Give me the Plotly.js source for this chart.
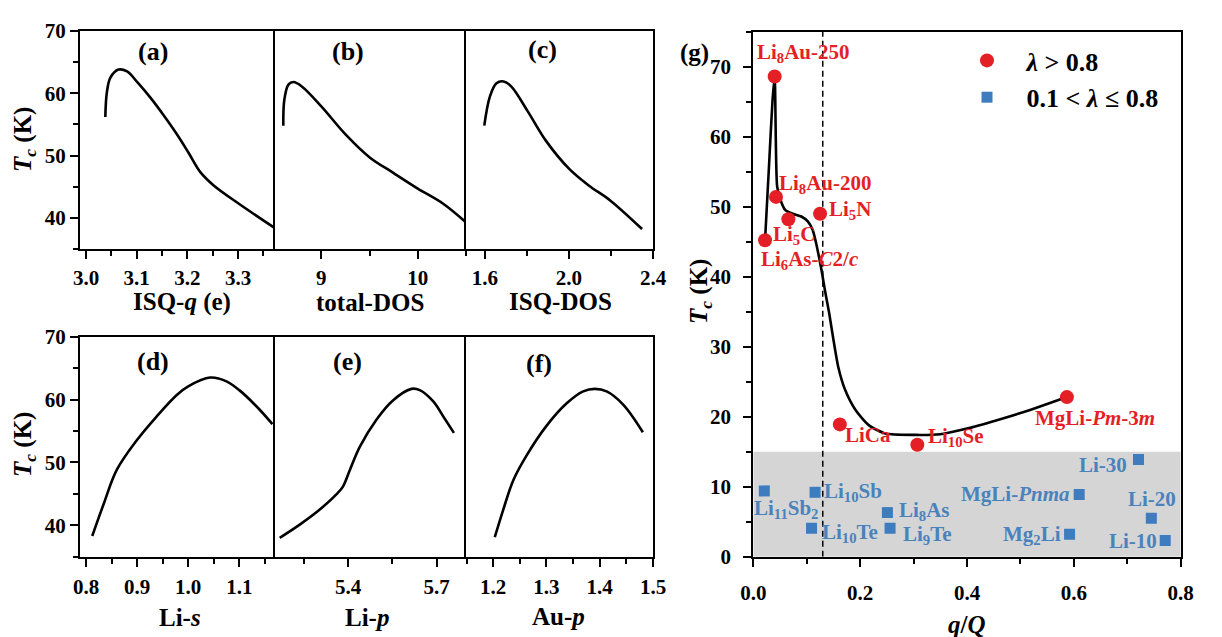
<!DOCTYPE html>
<html>
<head>
<meta charset="utf-8">
<script src="https://cdn.plot.ly/plotly-3.0.1.min.js"></script>
<style>html,body{margin:0;padding:0;background:#fff;}#chart{width:1222px;height:637px;}</style>
</head>
<body>
<div id="chart"></div>
<script>
// ---------- data ----------
// (a) Tc vs ISQ-q
const isqQ = [3.038, 3.041, 3.048, 3.064, 3.081, 3.102, 3.127, 3.152, 3.177, 3.202, 3.226, 3.252, 3.301, 3.372];
const tcA  = [56.2, 60.1, 62.5, 63.8, 63.5, 61.7, 59.3, 56.6, 53.7, 50.5, 47.3, 45.2, 42.3, 38.4];
// (b) Tc vs total-DOS
const totalDOS = [8.606, 8.617, 8.659, 8.711, 8.798, 9.0, 9.251, 9.502, 9.739, 10.0, 10.26, 10.49];
const tcB      = [54.8, 59.0, 61.4, 61.8, 61.1, 57.9, 53.4, 49.7, 47.3, 44.7, 42.3, 39.4];
// (c) Tc vs ISQ-DOS
const isqDOS = [1.597, 1.624, 1.655, 1.689, 1.725, 1.804, 1.890, 2.0, 2.094, 2.196, 2.348];
const tcC    = [54.8, 59.5, 61.6, 61.9, 61.1, 57.1, 52.4, 47.9, 45.2, 42.8, 38.2];
// (d) Tc vs Li-s
const liS = [0.812, 0.834, 0.860, 0.900, 0.938, 0.977, 1.0, 1.043, 1.075, 1.100, 1.134, 1.165];
const tcD = [38.3, 43.3, 48.8, 53.6, 57.3, 60.7, 62.1, 63.5, 62.9, 61.5, 58.9, 56.1];
// (e) Tc vs Li-p
const liP = [5.168, 5.236, 5.304, 5.360, 5.383, 5.406, 5.440, 5.496, 5.553, 5.615, 5.643, 5.689, 5.723, 5.759];
const tcE = [38.0, 40.1, 42.5, 44.9, 46.2, 48.8, 52.5, 56.8, 59.9, 61.7, 61.5, 59.7, 57.3, 54.7];
// (f) Tc vs Au-p
const auP = [1.203, 1.219, 1.238, 1.262, 1.299, 1.338, 1.369, 1.391, 1.413, 1.444, 1.481];
const tcF = [38.1, 42.5, 47.2, 51.0, 55.7, 59.4, 61.3, 61.7, 61.3, 59.2, 54.8];
// (g) trend curve Tc vs q/Q
const curveQ  = [0.022, 0.030, 0.036, 0.040, 0.0446, 0.0509, 0.060, 0.0749, 0.0899, 0.102, 0.111, 0.117, 0.123, 0.128, 0.134, 0.142, 0.150, 0.159, 0.172, 0.191, 0.216, 0.247, 0.303, 0.350, 0.400, 0.456, 0.518, 0.587];
const curveTc = [45.2, 56.7, 65.2, 68.6, 52.9, 50.96, 49.5, 48.96, 48.6, 47.9, 46.7, 45.0, 42.8, 40.8, 38.1, 34.8, 31.0, 27.1, 23.8, 21.0, 18.8, 17.6, 17.4, 17.5, 18.3, 19.5, 20.96, 22.8];
// (g) lambda > 0.8 compounds
const strongNames = ["Li<sub>8</sub>Au-250", "Li<sub>8</sub>Au-200", "Li<sub>5</sub>N", "Li<sub>5</sub>C", "Li<sub>6</sub>As-<i>C</i>2/<i>c</i>", "LiCa", "Li<sub>10</sub>Se", "MgLi-<i>Pm</i>-3<i>m</i>"];
const strongQ  = [0.040, 0.0425, 0.125, 0.0656, 0.022, 0.162, 0.307, 0.587];
const strongTc = [68.6, 51.4, 49.0, 48.2, 45.2, 18.9, 16.0, 22.8];
// (g) 0.1 < lambda <= 0.8 compounds
const weakNames = ["Li<sub>11</sub>Sb<sub>2</sub>", "Li<sub>10</sub>Sb", "Li<sub>10</sub>Te", "Li<sub>8</sub>As", "Li<sub>9</sub>Te", "MgLi-<i>Pnma</i>", "Mg<sub>2</sub>Li", "Li-30", "Li-20", "Li-10"];
const weakQ  = [0.0206, 0.1156, 0.109, 0.251, 0.256, 0.610, 0.592, 0.721, 0.745, 0.771];
const weakTc = [9.4, 9.2, 4.05, 6.3, 4.05, 8.9, 3.2, 13.9, 5.5, 2.3];
const qThreshold = 0.13;
const weakTcLimit = 15;

// ---------- style ----------
const W = 1222, H = 637;
const FONT = "Liberation Serif, Times New Roman, serif";
const RED = "#e41f26", BLUE = "#3c7cbf", BLUE_TXT = "#4a82bb";
// label offsets (px) relative to each marker
const strongOffsets = [[29, 23], [49, 13], [30, 4], [6, -16], [45, -20], [28, -11], [39, 8], [28, -21]];
const weakOffsets = [[22, -18], [38, 0], [38, -5], [37, 2], [37, -7], [-64, 0], [-38, -1], [-35, -6], [1, 19], [-32, 0]];

const px = v => v / W;
const py = v => 1 - v / H;

const tickFont = {family: FONT, size: 21, color: "#000", weight: "bold"};

function xAx(d0, d1, anchor, range, dtick, minorDtick, fmt, standoff) {
  return {
    domain: [px(d0), px(d1)], anchor: anchor, range: range,
    showline: true, mirror: true, linecolor: "#000", linewidth: 2,
    ticks: "outside", ticklen: 8, tickwidth: 2, tickcolor: "#000",
    dtick: dtick, tick0: 0, tickformat: fmt,
    minor: {ticks: "outside", ticklen: 5, tickwidth: 2, tickcolor: "#000", dtick: minorDtick},
    showgrid: false, zeroline: false, tickfont: tickFont, ticklabelstandoff: standoff,
    fixedrange: true
  };
}
function yAx(t, b, anchor, range, showTicks, dtick, mirror) {
  const ax = {
    domain: [py(b), py(t)], anchor: anchor, range: range,
    showline: true, mirror: mirror, linecolor: "#000", linewidth: 2,
    showgrid: false, zeroline: false, tickfont: tickFont, fixedrange: true
  };
  if (showTicks) {
    Object.assign(ax, {ticks: "outside", ticklen: 8, tickwidth: 2, tickcolor: "#000", dtick: dtick, tick0: 0,
      minor: {ticks: "outside", ticklen: 5, tickwidth: 2, tickcolor: "#000", dtick: dtick / 2}});
  } else {
    Object.assign(ax, {ticks: "", showticklabels: false});
  }
  return ax;
}

const TOP_T = 31, TOP_B = 249, BOT_T = 336.7, BOT_B = 556.7;
const C0 = 80, C1 = 275, C2 = 466, C3 = 653;
const G_L = 753.3, G_R = 1180.7, G_T = 31.7, G_B = 556.7;

const lineStyle = {color: "#000", width: 2.6, shape: "spline", smoothing: 1.0};
function curve(x, y, xa, ya) {
  return {x: x, y: y, xaxis: xa, yaxis: ya, mode: "lines", line: lineStyle, showlegend: false, hoverinfo: "skip"};
}

const traces = [
  curve(isqQ, tcA, "x", "y"),
  curve(totalDOS, tcB, "x2", "y2"),
  curve(isqDOS, tcC, "x3", "y3"),
  curve(liS, tcD, "x4", "y4"),
  curve(liP, tcE, "x5", "y5"),
  curve(auP, tcF, "x6", "y6"),
  {x: curveQ, y: curveTc, xaxis: "x7", yaxis: "y7", mode: "lines",
   line: {color: "#000", width: 2.6, shape: "spline", smoothing: 0.6}, showlegend: false, hoverinfo: "skip"},
  {x: strongQ, y: strongTc, xaxis: "x7", yaxis: "y7", mode: "markers", name: "&nbsp;&nbsp;&nbsp;<i>λ</i> &gt; 0.8",
   marker: {color: RED, size: 14, symbol: "circle"}},
  {x: weakQ, y: weakTc, xaxis: "x7", yaxis: "y7", mode: "markers", name: "&nbsp;&nbsp;&nbsp;0.1 &lt; <i>λ</i> ≤ 0.8",
   marker: {color: BLUE, size: 11, symbol: "square"}}
];

const annotations = [];
function ann(text, x, y, size, extra) {
  annotations.push(Object.assign({text: text, x: px(x), y: py(y), xref: "paper", yref: "paper",
    showarrow: false, xanchor: "center", yanchor: "middle",
    font: {family: FONT, size: size, color: "#000", weight: "bold"}}, extra || {}));
}
// panel letters
ann("(a)", 153, 51.7, 26); ann("(b)", 347.7, 51.7, 26); ann("(c)", 542.7, 50, 26);
ann("(d)", 153, 361.7, 26); ann("(e)", 347.7, 361.7, 26); ann("(f)", 539.3, 363.3, 26);
ann("(g)", 694, 53, 25);
// axis titles
const TC_TITLE = "<i>T</i><sub><i>c</i></sub> (K)";
ann(TC_TITLE, 24, 140, 25, {textangle: -90});
ann(TC_TITLE, 24, 445, 25, {textangle: -90});
ann(TC_TITLE, 700, 292, 25, {textangle: -90});
ann("ISQ-<i>q</i> (e)", 181.7, 302, 25);
ann("total-DOS", 370, 302, 25);
ann("ISQ-DOS", 560, 301, 25);
ann("Li-<i>s</i>", 180, 617, 25);
ann("Li-<i>p</i>", 366.7, 617, 25);
ann("Au-<i>p</i>", 558, 616, 25);
ann("<i>q</i>/<i>Q</i>", 966.7, 624, 25);
// point labels in (g)
strongNames.forEach((t, i) => annotations.push({text: t, x: strongQ[i], y: strongTc[i], xref: "x7", yref: "y7",
  showarrow: false, xanchor: "center", yanchor: "middle", xshift: strongOffsets[i][0], yshift: strongOffsets[i][1],
  font: {family: FONT, size: 21, color: RED, weight: "bold"}}));
weakNames.forEach((t, i) => annotations.push({text: t, x: weakQ[i], y: weakTc[i], xref: "x7", yref: "y7",
  showarrow: false, xanchor: "center", yanchor: "middle", xshift: weakOffsets[i][0], yshift: weakOffsets[i][1],
  font: {family: FONT, size: 21, color: BLUE_TXT, weight: "bold"}}));

const layout = {
  width: W, height: H, margin: {l: 0, r: 0, t: 0, b: 0},
  paper_bgcolor: "#fff", plot_bgcolor: "rgba(0,0,0,0)",
  font: {family: FONT, size: 21, color: "#000", weight: "bold"},
  xaxis:  xAx(C0, C1, "y",  [2.988, 3.373], 0.1, 0.05, ".1f", 1),
  xaxis2: xAx(C1, C2, "y2", [8.52, 10.5], 1, 0.5, "d", 1),
  xaxis3: xAx(C2, C3, "y3", [1.51, 2.4], 0.4, 0.2, ".1f", 1),
  xaxis4: xAx(C0, C1, "y4", [0.788, 1.17], 0.1, 0.05, ".1f", 2),
  xaxis5: xAx(C1, C2, "y5", [5.152, 5.8], 0.3, 0.15, ".1f", 2),
  xaxis6: xAx(C2, C3, "y6", [1.149, 1.5], 0.1, 0.05, ".1f", 2),
  xaxis7: xAx(G_L, G_R, "y7", [0, 0.8], 0.2, 0.1, ".1f", 8),
  xaxis8: {domain: [px(G_L), px(G_R)], anchor: "y7", overlaying: "x7", side: "top", range: [0, 0.8],
    tickmode: "array", tickvals: [qThreshold], ticktext: ["0.13"], ticks: "", showline: false,
    showgrid: false, zeroline: false, tickfont: tickFont, ticklabelstandoff: 2, fixedrange: true},
  yaxis:  yAx(TOP_T, TOP_B, "x",  [35, 70], true, 10, false),
  yaxis2: yAx(TOP_T, TOP_B, "x2", [35, 70], false, 10, false),
  yaxis3: yAx(TOP_T, TOP_B, "x3", [35, 70], false, 10, true),
  yaxis4: yAx(BOT_T, BOT_B, "x4", [35, 70], true, 10, false),
  yaxis5: yAx(BOT_T, BOT_B, "x5", [35, 70], false, 10, false),
  yaxis6: yAx(BOT_T, BOT_B, "x6", [35, 70], false, 10, true),
  yaxis7: Object.assign(yAx(G_T, G_B, "x7", [0, 75], true, 10, true), {ticklabelstandoff: 8}),
  shapes: [
    {type: "rect", xref: "x7", yref: "y7", x0: 0, x1: 0.8, y0: 0, y1: weakTcLimit,
     fillcolor: "#d5d5d5", line: {width: 0}, layer: "below"},
    {type: "line", xref: "x7", yref: "y7", x0: qThreshold, x1: qThreshold, y0: 0, y1: 75,
     line: {color: "#000", width: 1.5, dash: "6px,4px"}, layer: "below"}
  ],
  annotations: annotations,
  showlegend: true,
  legend: {x: px(967), y: py(37), xanchor: "left", yanchor: "top", bgcolor: "rgba(0,0,0,0)",
    font: {family: FONT, size: 26, color: "#000", weight: "bold"}, tracegroupgap: 0}
};

Plotly.newPlot("chart", traces, layout, {displayModeBar: false, staticPlot: true});
</script>
</body>
</html>
